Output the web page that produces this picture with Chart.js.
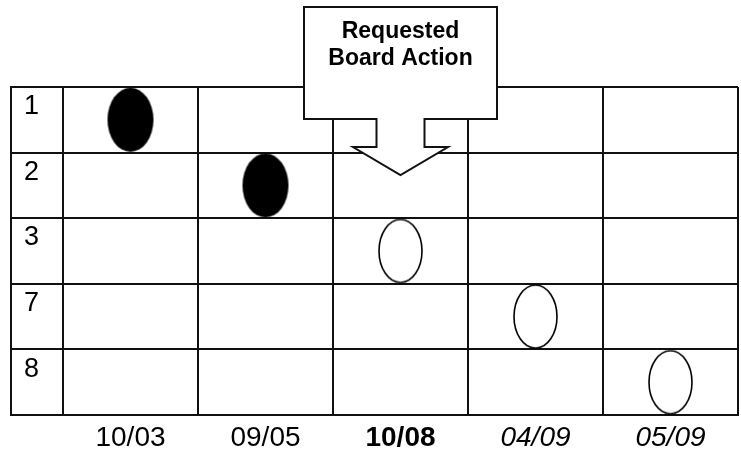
<!DOCTYPE html>
<html><head><meta charset="utf-8">
<script src="https://cdn.jsdelivr.net/npm/chart.js@4"></script>
<style>html,body{margin:0;padding:0;background:#fff}#wrap{width:741px;height:453px;position:relative}</style>
</head><body><div id="wrap"><canvas id="c"></canvas></div>
<script>
// ---- data ----
const meetingDates = ['10/03', '09/05', '10/08', '04/09', '05/09'];
const stepLabels = ['1', '2', '3', '7', '8'];
const stepAtMeeting = ['1', '2', '3', '7', '8'];
const meetingStatus = ['past', 'past', 'requested', 'future', 'future'];
const requestedMeeting = '10/08';
const calloutLines = ['Requested', 'Board Action'];

// ---- rendering ----
const FONT = '"Liberation Sans", Arial, sans-serif';
const INK = '#111';

function ellipseCanvas(w, h, filled) {
  const c = document.createElement('canvas');
  c.width = w + 4; c.height = h + 4;
  const g = c.getContext('2d');
  g.beginPath();
  g.ellipse(c.width / 2, c.height / 2, w / 2, h / 2, 0, 0, Math.PI * 2);
  if (filled) { g.fillStyle = '#000'; g.fill(); }
  else { g.lineWidth = 1.6; g.strokeStyle = '#000'; g.stroke(); }
  return c;
}
const filledMark = ellipseCanvas(46, 64, true);
const hollowMark = ellipseCanvas(43, 63, false);

const pastPts = [], otherPts = [];
meetingDates.forEach((d, i) => {
  const p = { x: d, y: stepAtMeeting[i] };
  (meetingStatus[i] === 'past' ? pastPts : otherPts).push(p);
});

const framePlugin = {
  id: 'frame',
  afterDraw(chart) {
    const { ctx, chartArea, scales: { y } } = chart;
    ctx.save();
    ctx.strokeStyle = INK; ctx.lineWidth = 2;
    ctx.beginPath();
    ctx.moveTo(y.left - 13, chartArea.top - 1);
    ctx.lineTo(y.left - 13, chartArea.bottom + 1);
    ctx.stroke();
    ctx.restore();
  }
};

const calloutPlugin = {
  id: 'callout',
  afterDraw(chart) {
    const { ctx, chartArea, scales: { x } } = chart;
    const cx = x.getPixelForValue(meetingDates.indexOf(requestedMeeting));
    const top = 7, bot = chartArea.top + 32;
    const bw = 96.5, sw = 24, hw = 47.5;
    const headY = chartArea.top + 60, tipY = chartArea.top + 88;
    ctx.save();
    ctx.beginPath();
    ctx.moveTo(cx - bw, top);
    ctx.lineTo(cx + bw, top);
    ctx.lineTo(cx + bw, bot);
    ctx.lineTo(cx + sw, bot);
    ctx.lineTo(cx + sw, headY);
    ctx.lineTo(cx + hw, headY);
    ctx.lineTo(cx, tipY);
    ctx.lineTo(cx - hw, headY);
    ctx.lineTo(cx - sw, headY);
    ctx.lineTo(cx - sw, bot);
    ctx.lineTo(cx - bw, bot);
    ctx.closePath();
    ctx.fillStyle = '#fff'; ctx.fill();
    ctx.strokeStyle = INK; ctx.lineWidth = 2; ctx.lineJoin = 'miter'; ctx.stroke();
    ctx.fillStyle = '#000';
    ctx.font = 'bold 23px ' + FONT;
    ctx.textAlign = 'center'; ctx.textBaseline = 'alphabetic';
    ctx.fillText(calloutLines[0], cx, 38);
    ctx.fillText(calloutLines[1], cx, 65);
    ctx.restore();
  }
};

new Chart(document.getElementById('c'), {
  type: 'scatter',
  data: {
    datasets: [
      { data: pastPts, pointStyle: filledMark, pointRadius: 30, clip: false },
      { data: otherPts, pointStyle: hollowMark, pointRadius: 30, clip: false }
    ]
  },
  options: {
    responsive: true,
    maintainAspectRatio: false,
    animation: false,
    events: [],
    layout: { autoPadding: false, padding: { top: 87, left: 24, right: 3, bottom: 0 } },
    plugins: { legend: { display: false }, tooltip: { enabled: false } },
    scales: {
      x: {
        type: 'category',
        labels: meetingDates,
        offset: true,
        grid: { offset: true, color: INK, lineWidth: 2, drawTicks: false },
        border: { display: true, color: INK, width: 2 },
        ticks: {
          color: '#000',
          padding: 6,
          font: (c) => {
            const s = meetingStatus[c.index];
            return {
              family: FONT, size: 28,
              weight: s === 'requested' ? 'bold' : 'normal',
              style: s === 'future' ? 'italic' : 'normal'
            };
          }
        },
        afterFit: (s) => { s.height = 38; }
      },
      y: {
        type: 'category',
        labels: stepLabels,
        offset: true,
        grid: { offset: true, color: INK, lineWidth: 2, drawTicks: true, tickLength: 52 },
        border: { display: true, color: INK, width: 2 },
        ticks: {
          color: '#000',
          crossAlign: 'far',
          labelOffset: -13,
          font: { family: FONT, size: 27 }
        },
        afterFit: (s) => { s.width = 39; }
      }
    }
  },
  plugins: [framePlugin, calloutPlugin]
});
</script>
</body></html>
